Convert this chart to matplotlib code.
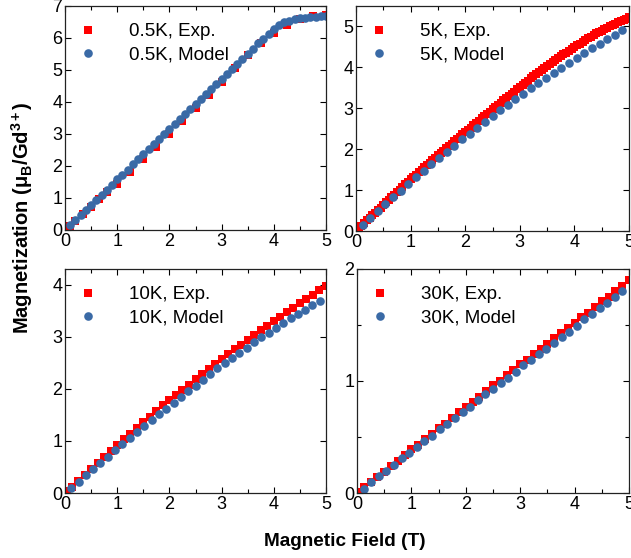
import matplotlib
matplotlib.use("Agg")
import matplotlib.pyplot as plt
from matplotlib.ticker import MultipleLocator

plt.rcParams["font.family"] = ["Liberation Sans", "DejaVu Sans"]
plt.rcParams["mathtext.fontset"] = "custom"
plt.rcParams["mathtext.rm"] = "Liberation Sans"
plt.rcParams["mathtext.it"] = "Liberation Sans:italic"
plt.rcParams["mathtext.bf"] = "Liberation Sans:bold"

# 0.5 K
exp_05_x = [0.05, 0.1, 0.2, 0.35, 0.5, 0.65, 0.8, 1.0, 1.25, 1.5, 1.75, 2.0,
            2.25, 2.5, 2.75, 3.0, 3.25, 3.5, 3.75, 4.0, 4.25, 4.5, 4.75, 5.0]
exp_05_m = [0.05, 0.12, 0.27, 0.5, 0.72, 0.97, 1.18, 1.45, 1.82, 2.22, 2.6, 3.0,
            3.4, 3.82, 4.22, 4.62, 5.05, 5.47, 5.85, 6.17, 6.42, 6.6, 6.7, 6.73]
mod_05_x = [0.1, 0.2, 0.3, 0.4, 0.5, 0.6, 0.7, 0.8, 0.9, 1.0,
            1.1, 1.2, 1.3, 1.4, 1.5, 1.6, 1.7, 1.8, 1.9, 2.0,
            2.1, 2.2, 2.3, 2.4, 2.5, 2.6, 2.7, 2.8, 2.9, 3.0,
            3.1, 3.2, 3.3, 3.4, 3.5, 3.6, 3.7, 3.8, 3.9, 4.0,
            4.1, 4.2, 4.3, 4.4, 4.5, 4.6, 4.7, 4.8, 4.9, 5.0]
mod_05_m = [0.16, 0.32, 0.47, 0.63, 0.79, 0.95, 1.10, 1.26, 1.42, 1.58,
            1.73, 1.89, 2.05, 2.21, 2.36, 2.52, 2.68, 2.84, 2.99, 3.15,
            3.31, 3.47, 3.62, 3.78, 3.94, 4.10, 4.25, 4.41, 4.57, 4.72,
            4.88, 5.04, 5.20, 5.35, 5.51, 5.67, 5.83, 5.98, 6.13, 6.27,
            6.40, 6.49, 6.54, 6.58, 6.61, 6.63, 6.65, 6.67, 6.69, 6.70]

# 5 K (measured every 0.05 T)
exp_5_x = [0.05, 0.10, 0.15, 0.20, 0.25, 0.30, 0.35, 0.40, 0.45, 0.50,
           0.55, 0.60, 0.65, 0.70, 0.75, 0.80, 0.85, 0.90, 0.95, 1.00,
           1.05, 1.10, 1.15, 1.20, 1.25, 1.30, 1.35, 1.40, 1.45, 1.50,
           1.55, 1.60, 1.65, 1.70, 1.75, 1.80, 1.85, 1.90, 1.95, 2.00,
           2.05, 2.10, 2.15, 2.20, 2.25, 2.30, 2.35, 2.40, 2.45, 2.50,
           2.55, 2.60, 2.65, 2.70, 2.75, 2.80, 2.85, 2.90, 2.95, 3.00,
           3.05, 3.10, 3.15, 3.20, 3.25, 3.30, 3.35, 3.40, 3.45, 3.50,
           3.55, 3.60, 3.65, 3.70, 3.75, 3.80, 3.85, 3.90, 3.95, 4.00,
           4.05, 4.10, 4.15, 4.20, 4.25, 4.30, 4.35, 4.40, 4.45, 4.50,
           4.55, 4.60, 4.65, 4.70, 4.75, 4.80, 4.85, 4.90, 4.95, 5.00]
exp_5_m = [0.06, 0.13, 0.19, 0.26, 0.32, 0.38, 0.45, 0.51, 0.57, 0.64,
           0.70, 0.76, 0.82, 0.89, 0.95, 1.01, 1.07, 1.14, 1.20, 1.26,
           1.32, 1.38, 1.44, 1.50, 1.56, 1.62, 1.67, 1.73, 1.79, 1.85,
           1.90, 1.96, 2.02, 2.08, 2.13, 2.19, 2.25, 2.31, 2.36, 2.42,
           2.47, 2.53, 2.58, 2.64, 2.70, 2.76, 2.81, 2.87, 2.92, 2.98,
           3.03, 3.09, 3.14, 3.20, 3.25, 3.31, 3.36, 3.41, 3.47, 3.52,
           3.57, 3.62, 3.67, 3.73, 3.78, 3.83, 3.88, 3.93, 3.98, 4.03,
           4.08, 4.13, 4.17, 4.22, 4.27, 4.32, 4.36, 4.41, 4.45, 4.50,
           4.54, 4.58, 4.63, 4.67, 4.71, 4.75, 4.79, 4.83, 4.86, 4.90,
           4.94, 4.97, 5.01, 5.04, 5.07, 5.10, 5.13, 5.16, 5.19, 5.22]

# model field grid shared by 5 K, 10 K and 30 K
mod_x = [0.12, 0.26, 0.40, 0.54, 0.68, 0.82, 0.96, 1.10, 1.24, 1.38,
         1.52, 1.66, 1.80, 1.94, 2.08, 2.22, 2.36, 2.50, 2.64, 2.78,
         2.92, 3.06, 3.20, 3.34, 3.48, 3.62, 3.76, 3.90, 4.04, 4.18,
         4.32, 4.46, 4.60, 4.74, 4.88]
mod_5_m = [0.15, 0.32, 0.49, 0.66, 0.83, 0.99, 1.15, 1.31, 1.47, 1.63,
           1.78, 1.94, 2.09, 2.24, 2.38, 2.53, 2.67, 2.81, 2.95, 3.09,
           3.22, 3.36, 3.49, 3.62, 3.74, 3.87, 3.99, 4.11, 4.23, 4.35,
           4.47, 4.58, 4.69, 4.80, 4.91]

# exp field grid shared by 10 K and 30 K
exp_x = [0.03, 0.125, 0.25, 0.375, 0.5, 0.625, 0.75, 0.875, 1.0,
         1.125, 1.25, 1.375, 1.5, 1.625, 1.75, 1.875, 2.0,
         2.125, 2.25, 2.375, 2.5, 2.625, 2.75, 2.875, 3.0,
         3.125, 3.25, 3.375, 3.5, 3.625, 3.75, 3.875, 4.0,
         4.125, 4.25, 4.375, 4.5, 4.625, 4.75, 4.875, 5.0]

# 10 K
exp_10_m = [0.03, 0.12, 0.23, 0.35, 0.47, 0.58, 0.69, 0.81, 0.92,
            1.03, 1.14, 1.25, 1.36, 1.46, 1.57, 1.68, 1.78,
            1.88, 1.98, 2.08, 2.18, 2.28, 2.38, 2.48, 2.57,
            2.66, 2.76, 2.85, 2.94, 3.03, 3.12, 3.21, 3.30,
            3.38, 3.47, 3.55, 3.64, 3.72, 3.81, 3.89, 3.97]
mod_10_m = [0.10, 0.22, 0.34, 0.46, 0.58, 0.70, 0.82, 0.94, 1.05, 1.17,
            1.29, 1.40, 1.51, 1.62, 1.73, 1.84, 1.95, 2.06, 2.17, 2.28,
            2.39, 2.49, 2.59, 2.69, 2.79, 2.89, 2.99, 3.08, 3.17, 3.26,
            3.35, 3.43, 3.52, 3.60, 3.69]

# 30 K
exp_30_m = [0.01, 0.05, 0.10, 0.14, 0.19, 0.24, 0.29, 0.34, 0.39,
            0.43, 0.48, 0.53, 0.58, 0.62, 0.67, 0.72, 0.77,
            0.81, 0.86, 0.91, 0.96, 1.00, 1.05, 1.10, 1.15,
            1.19, 1.24, 1.29, 1.33, 1.38, 1.43, 1.47, 1.52,
            1.57, 1.61, 1.66, 1.71, 1.75, 1.80, 1.85, 1.90]
mod_30_m = [0.04, 0.10, 0.15, 0.20, 0.25, 0.31, 0.36, 0.41, 0.46, 0.51,
            0.57, 0.62, 0.67, 0.72, 0.77, 0.83, 0.88, 0.93, 0.98, 1.03,
            1.08, 1.14, 1.19, 1.24, 1.29, 1.34, 1.39, 1.44, 1.49, 1.55,
            1.60, 1.65, 1.70, 1.75, 1.80]

RED = "#ff0000"
BLUE = "#3a6aa6"
W, H = 631, 558

fig = plt.figure(figsize=(W / 100, H / 100), dpi=100)


def px_axes(left, top, right, bottom):
    ax = fig.add_axes([left / W, 1 - bottom / H, (right - left) / W, (bottom - top) / H])
    ax.px_size = (right - left, bottom - top)
    return ax


def panel(ax, ex, em, mx, mm, temp, ymax, ystep, yminor=None):
    ax.plot(ex, em, "s", color=RED, ms=5.5, mew=0, label=f"{temp}, Exp.")
    ax.plot(mx, mm, "o", color=BLUE, ms=6.2, mew=0, label=f"{temp}, Model")
    ax.set_xlim(0, 5)
    ax.set_ylim(0, ymax)
    ax.xaxis.set_major_locator(MultipleLocator(1))
    ax.xaxis.set_minor_locator(MultipleLocator(0.5))
    ax.yaxis.set_major_locator(MultipleLocator(ystep))
    if yminor:
        ax.yaxis.set_minor_locator(MultipleLocator(yminor))
    ax.tick_params(which="both", direction="in", top=True, right=True,
                   labelsize=13, pad=2, width=0.8)
    ax.tick_params(which="major", length=4)
    ax.tick_params(which="minor", length=3)
    for s in ax.spines.values():
        s.set_linewidth(0.9)
        s.set_color("#222222")
    pw, ph = ax.px_size
    ax.legend(loc="upper left", frameon=False, fontsize=13.5, handletextpad=1.55,
              borderaxespad=0, borderpad=0, labelspacing=0.32, handlelength=1.2,
              bbox_to_anchor=(12 / pw, 1 - 17 / ph))


ax1 = px_axes(65, 6, 326, 230)
panel(ax1, exp_05_x, exp_05_m, mod_05_x, mod_05_m, "0.5K", 7, 1)
ax2 = px_axes(356, 6, 629, 231)
panel(ax2, exp_5_x, exp_5_m, mod_x, mod_5_m, "5K", 5.5, 1)
ax3 = px_axes(65, 269, 326, 493)
panel(ax3, exp_x, exp_10_m, mod_x, mod_10_m, "10K", 4.3, 1)
ax4 = px_axes(357, 269, 629, 493)
panel(ax4, exp_x, exp_30_m, mod_x, mod_30_m, "30K", 2, 1, 0.5)

fig.text(345 / W, 1 - 541 / H, "Magnetic Field (T)", ha="center", va="center",
         fontsize=13.7, fontweight="bold")
fig.text(22 / W, 1 - 218 / H, r"Magnetization ($\mathregular{\mu_B}$/Gd$^{\mathbf{3+}}$)",
         ha="center", va="center", rotation=90, fontsize=14.5, fontweight="bold")

fig.savefig("out.png", dpi=100)
